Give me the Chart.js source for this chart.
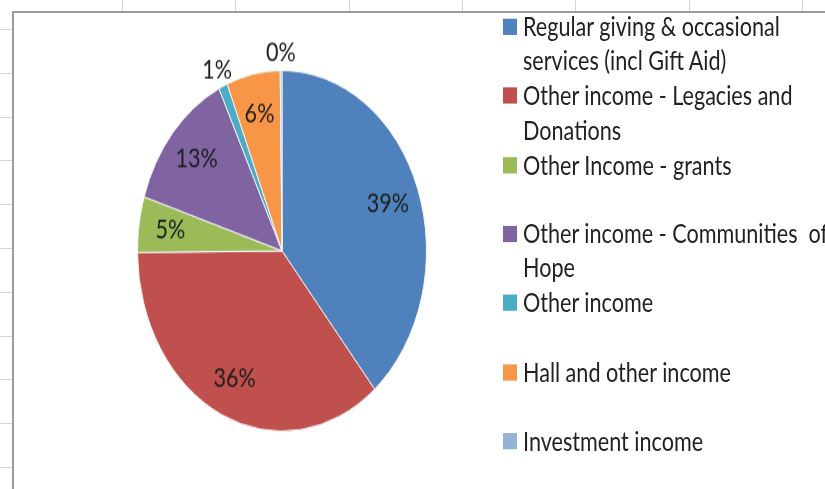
<!DOCTYPE html>
<html>
<head>
<meta charset="utf-8">
<script src="https://cdn.jsdelivr.net/npm/chart.js@4/dist/chart.umd.min.js"></script>
<style>
  body { margin: 0; width: 825px; height: 489px; overflow: hidden; background: #fff; position: relative; font-family: Lato, sans-serif; }
  .grid { position: absolute; background: #d6d6d6; }
  #frame { position: absolute; left: 12px; top: 11px; width: 830px; height: 490px; border-left: 2px solid #9c9c9c; border-top: 2px solid #9c9c9c; background: #fff; }
  /* the reference is stretched vertically, so draw flat and scale up */
  #stretch { position: absolute; left: 0; top: 0; width: 825px; height: 392px; transform: scaleY(1.248); transform-origin: 0 0; }
  #legend { position: absolute; left: 503px; top: 0; }
  .item { position: absolute; left: 0; white-space: pre; font-size: 21.6px; line-height: 27.2px; color: #222; }
  .box { position: absolute; left: 0; width: 14px; height: 13px; }
  .txt { position: absolute; left: 20px; top: 0; }
</style>
</head>
<body>
<div id="frame"></div>
<div id="stretch">
  <canvas id="incomeChart" width="825" height="392"></canvas>
  <div id="legend"></div>
</div>
<script>
// Income breakdown (percent of total)
const categories = [
  ['Regular giving & occasional', 'services (incl Gift Aid)'],
  ['Other income - Legacies and', 'Donations'],
  ['Other Income - grants'],
  ['Other income - Communities  of', 'Hope'],
  ['Other income'],
  ['Hall and other income'],
  ['Investment income']
];
const shares = [39, 36, 5, 13, 1, 6, 0.2];
const colours = ['#4f81bd', '#c0504d', '#9bbb59', '#8064a2', '#4bacc6', '#f79646', '#95b3d7'];

// spreadsheet gridlines peeking out around the chart frame
for (let x = 122; x < 825; x += 113.3) {
  const d = document.createElement('div');
  d.className = 'grid';
  d.style.cssText = 'left:' + x + 'px;top:0;width:1px;height:11px';
  document.body.insertBefore(d, document.body.firstChild);
}
for (let y = 29; y < 489; y += 43.8) {
  const d = document.createElement('div');
  d.className = 'grid';
  d.style.cssText = 'left:0;top:' + y + 'px;width:12px;height:1px';
  document.body.insertBefore(d, document.body.firstChild);
}

// percentage labels, inside big slices and outside tiny ones
const pctLabels = {
  id: 'pctLabels',
  afterDatasetsDraw(chart) {
    const ctx = chart.ctx;
    const data = chart.data.datasets[0].data;
    const total = data.reduce((a, b) => a + b, 0);
    ctx.save();
    ctx.font = '21.6px Lato';
    ctx.fillStyle = '#1e1e1e';
    ctx.textAlign = 'center';
    ctx.textBaseline = 'middle';
    chart.getDatasetMeta(0).data.forEach((arc, i) => {
      const p = arc.getProps(['x', 'y', 'startAngle', 'endAngle', 'outerRadius'], true);
      const pct = data[i] / total * 100;
      const mid = (p.startAngle + p.endAngle) / 2;
      const r = p.outerRadius * (pct < 3 ? 1.1 : 0.78);
      ctx.fillText(Math.round(pct) + '%', p.x + Math.cos(mid) * r, p.y + Math.sin(mid) * r);
    });
    ctx.restore();
  }
};

function buildLegend() {
  const legend = document.getElementById('legend');
  categories.forEach((lines, i) => {
    const mid = 21.6 + 55.3 * i;
    const item = document.createElement('div');
    item.className = 'item';
    item.style.top = (mid - 13.6) + 'px';
    const box = document.createElement('div');
    box.className = 'box';
    box.style.top = '7px';
    box.style.background = colours[i];
    const txt = document.createElement('div');
    txt.className = 'txt';
    txt.textContent = lines.join('\n');
    item.appendChild(box);
    item.appendChild(txt);
    legend.appendChild(item);
  });
}

function createPieChart() {
  const ctx = document.getElementById('incomeChart').getContext('2d');
  new Chart(ctx, {
    type: 'pie',
    data: {
      labels: categories,
      datasets: [{
        data: shares,
        backgroundColor: colours,
        borderColor: '#f4f4f4',
        borderWidth: 1
      }]
    },
    options: {
      responsive: false,
      animation: false,
      devicePixelRatio: 1,
      layout: { padding: { left: 137, right: 398, top: 56, bottom: 46 } },
      plugins: {
        legend: { display: false },
        tooltip: { enabled: false }
      }
    },
    plugins: [pctLabels]
  });
}

window.onload = function() {
  buildLegend();
  createPieChart();
};
</script>
</body>
</html>
